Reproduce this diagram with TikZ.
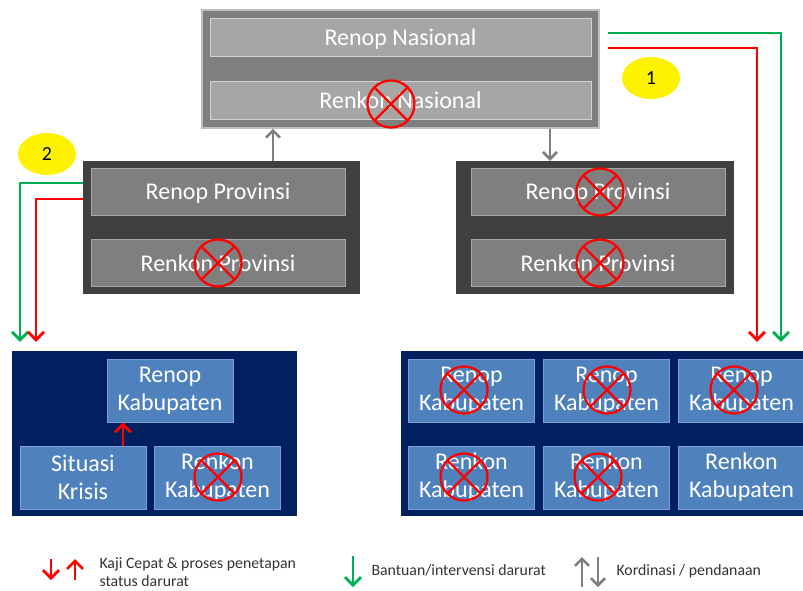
\documentclass[tikz,border=0pt]{standalone}
\usepackage{fontspec}
\setmainfont{Carlito}
\usetikzlibrary{arrows.meta,shapes.geometric,positioning,calc}
\definecolor{abutua}{HTML}{404040}
\definecolor{abusedang}{HTML}{7F7F7F}
\definecolor{abuterang}{HTML}{A6A6A6}
\definecolor{garisabu}{HTML}{BFBFBF}
\definecolor{birutua}{HTML}{002060}
\definecolor{birumuda}{HTML}{4F81BD}
\definecolor{garisbiru}{HTML}{7F9FD0}
\definecolor{hijaupanah}{HTML}{00B050}
\newcommand{\hurufkotak}{\fontsize{24}{28}\selectfont}

\begin{document}
\begin{tikzpicture}[x=1pt, y=-1pt,
    kotak/.style={rectangle, inner sep=0pt, align=center, text=white, font=\hurufkotak},
    nasluar/.style={kotak, fill=abusedang, draw=garisabu, line width=1.5pt, minimum width=397pt, minimum height=118pt},
    nasisi/.style={kotak, fill=abuterang, draw=garisabu!70, line width=0.6pt, minimum width=381pt, minimum height=38pt, text height=20pt, text depth=4pt},
    provluar/.style={kotak, fill=abutua, minimum height=133pt},
    provisi/.style={kotak, fill=abusedang, draw=abuterang, line width=0.6pt, minimum width=254pt, minimum height=47pt, text height=20pt, text depth=4pt},
    kabluar/.style={kotak, fill=birutua, minimum height=165pt},
    kabisi/.style={kotak, fill=birumuda, draw=garisbiru, line width=0.6pt, minimum width=126pt, minimum height=63pt},
    coret/.style={circle, draw=red, line width=2.3pt, minimum size=47pt, inner sep=0pt,
        path picture={\draw[red, line width=2.3pt] (path picture bounding box.south west) -- (path picture bounding box.north east)
            (path picture bounding box.north west) -- (path picture bounding box.south east);}},
    bulat/.style={ellipse, fill=yellow, inner sep=0pt, minimum width=58pt, minimum height=42pt, font=\fontsize{20}{22}\selectfont},
    hijau/.style={draw=hijaupanah, line width=2.8pt, -{Straight Barb[length=8pt, width=16pt]}},
    kaji/.style={draw=red, line width=2.8pt, -{Straight Barb[length=8pt, width=16pt]}},
    kord/.style={draw=abusedang, line width=2.6pt, -{Straight Barb[length=7pt, width=14pt]}},
    ket/.style={anchor=west, align=left, text=black!80, font=\fontsize{15.8}{18}\selectfont}
]
\useasboundingbox (0,0) rectangle (803,590);

% Tingkat nasional
\node[nasluar] (nasional) at (400.5,69) {};
\node[nasisi] (renopnas) at (400.5,37) {Renop Nasional};
\node[nasisi] (renkonnas) at (400.5,100.5) {Renkon Nasional};
\node[coret] (xnas) at (391,104) {};

% Tingkat provinsi
\node[provluar, minimum width=277pt] (provkiri) at (221.5,227.5) {};
\node[provisi] (renopprovkiri) at (218,191.5) {Renop Provinsi};
\node[provisi] (renkonprovkiri) at (218,263) {Renkon Provinsi};
\node[coret] (xprovkiri) at (218,263) {};

\node[provluar, minimum width=278pt] (provkanan) at (595,227.5) {};
\node[provisi] (renopprovkanan) at (598,191.5) {Renop Provinsi};
\node[provisi] (renkonprovkanan) at (598,263) {Renkon Provinsi};
\node[coret] (xrenopprovkanan) at (600,192) {};
\node[coret] (xrenkonprovkanan) at (600,263) {};

% Tingkat kabupaten
\node[kabluar, minimum width=285pt] (kabkiri) at (154.5,433.5) {};
\node[kabisi] (renopkab) at (170,390.5) {Renop\\Kabupaten};
\node[kabisi] (situasi) at (83,477.5) {Situasi\\Krisis};
\node[kabisi] (renkonkab) at (217.5,477.5) {Renkon\\Kabupaten};
\node[coret] (xrenkonkab) at (218,477) {};

\node[kabluar, minimum width=404pt] (kabkanan) at (603,433.5) {};
\foreach \i/\x in {1/471.5, 2/606.5, 3/741.5} {
    \node[kabisi] (renopkab\i) at (\x,390.5) {Renop\\Kabupaten};
    \node[kabisi] (renkonkab\i) at (\x,477.5) {Renkon\\Kabupaten};
}
\node[coret] (xrenop1) at (464,390) {};
\node[coret] (xrenop2) at (607,390) {};
\node[coret] (xrenop3) at (734,390) {};
\node[coret] (xrenkon1) at (464,477) {};
\node[coret] (xrenkon2) at (598,477) {};

% Penanda alur
\node[bulat] (satu) at (651,78) {1};
\node[bulat] (dua) at (47,154) {2};

% Kordinasi
\draw[kord] (provkiri.north -| 273,0) -- (nasional.south -| 273,0);
\draw[kord] (nasional.south -| 550,0) -- (provkanan.north -| 550,0);

% Bantuan dan kaji cepat
\draw[hijau] ([shift={(8,-36)}]nasional.east) -| ($(kabkanan.north -| 781,0)+(0,-9)$);
\draw[kaji] ([shift={(8,-21)}]nasional.east) -| ($(kabkanan.north -| 757,0)+(0,-9)$);
\draw[hijau] ([shift={(0,-44.5)}]provkiri.west) -| ($(kabkiri.north -| 20,0)+(0,-9)$);
\draw[kaji] ([shift={(0,-28.5)}]provkiri.west) -| ($(kabkiri.north -| 36,0)+(0,-9)$);
\draw[kaji] (situasi.north -| 123,0) -- (renopkab.south -| 123,0);

% Keterangan
\draw[kaji] (51,559) -- (51,580);
\draw[kaji] (75,580) -- (75,559);
\node[ket] (ketkaji) at (96,572) {Kaji Cepat \& proses penetapan\\status darurat};
\draw[hijau] (353,556) -- (353,587);
\node[ket] (ketbantuan) at (368,570) {Bantuan/intervensi darurat};
\draw[kord] (582,587) -- (582,557);
\draw[kord] (598,557) -- (598,587);
\node[ket] (ketkord) at (613,571) {Kordinasi / pendanaan};

\end{tikzpicture}
\end{document}
